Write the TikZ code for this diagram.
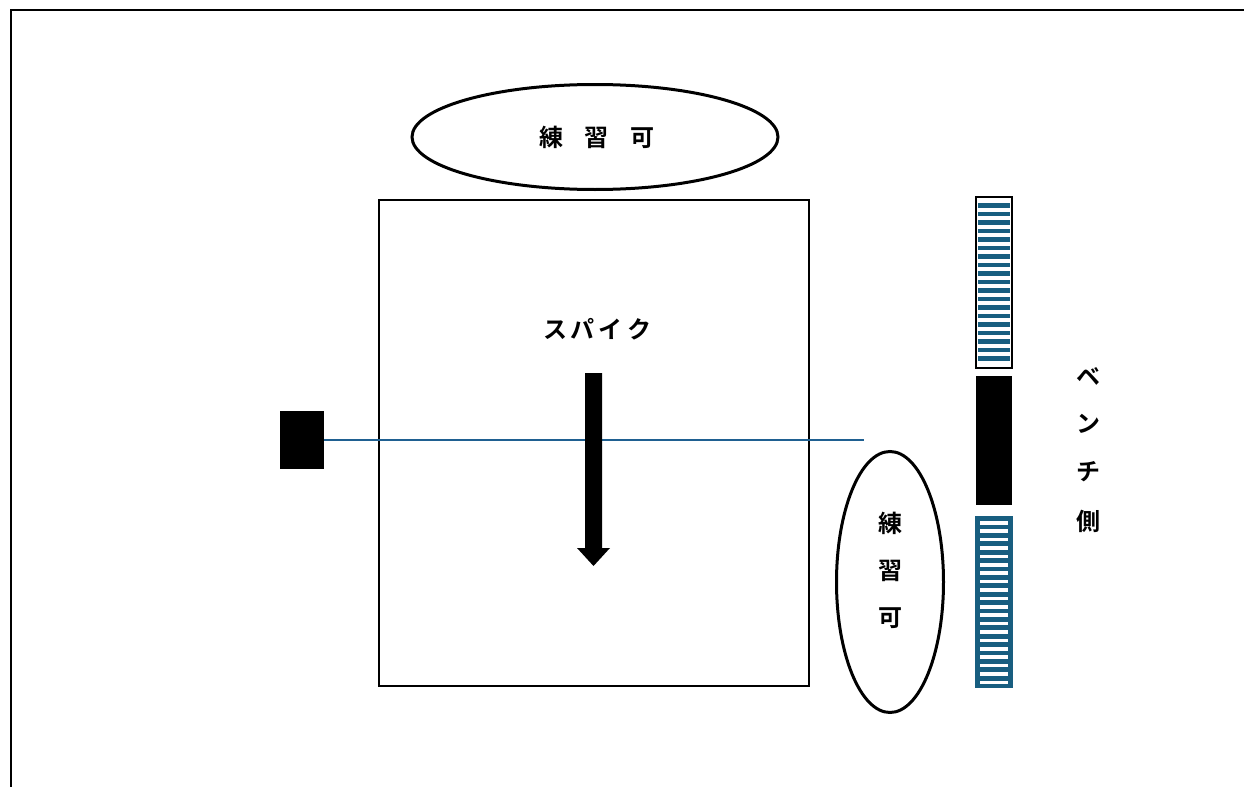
\documentclass[tikz,border=0pt]{standalone}
\usepackage{fontspec}
\setmainfont{Noto Sans CJK JP}[BoldFont={Noto Sans CJK JP Bold}]
\usetikzlibrary{shapes.geometric}
\definecolor{stripeblue}{RGB}{24,94,128}
\definecolor{netblue}{RGB}{31,96,145}
\tikzset{
  lbl/.style={font=\fontsize{12}{14}\selectfont\bfseries, inner sep=0pt},
  zone/.style={draw, ellipse, line width=1.5pt, inner sep=0pt},
  benchpart/.style={minimum width=18pt, minimum height=85.5pt, inner sep=0pt, line width=1pt}
}
\begin{document}
\begin{tikzpicture}[x=0.5pt,y=-0.5pt]
\useasboundingbox (0,0) rectangle (1244,787);
% frame
\draw[line width=1pt] (11,787) -- (11,10) -- (1244,10);
% court
\node[draw, line width=0.75pt, minimum width=215pt, minimum height=243pt, inner sep=0pt] (court) at (594,443) {};
% top practice zone
\node[zone, minimum width=183pt, minimum height=52.5pt] (ztop) at (595,137) {};
\node[lbl] (ttop) at (597,137) {練\hspace{11pt}習\hspace{11pt}可};
% right practice zone
\node[zone, minimum width=53.5pt, minimum height=130.5pt] (zright) at (890,582) {};
\node[lbl] (r1) at (890,523) {練};
\node[lbl] (r2) at (890,571) {習};
\node[lbl] (r3) at (890,618) {可};
% spike label
\node[lbl] (spike) at (597,329) {ス\hspace{2pt}パ\hspace{2pt}イ\hspace{2pt}ク};
% net post and net
\node[fill=black, minimum width=22pt, minimum height=29pt, inner sep=0pt] (post) at (302,440) {};
\coordinate (netend) at (864,440);
\draw[netblue, line width=0.75pt] (post.east) -- (netend);
% arrow
\fill (585,373) -- (602,373) -- (602,548) -- (610,548) -- (593.5,566) -- (577,548) -- (585,548) -- cycle;
% bench top (striped, black border)
\node[benchpart, fill=white] (btop) at (994,282.5) {};
\foreach \i in {0,...,18} {
  \fill[stripeblue] (978,203+\i*8.5) rectangle (1010,207.5+\i*8.5);
}
\node[benchpart, draw=black] at (994,282.5) {};
% bench middle (black)
\node[fill=black, minimum width=18pt, minimum height=64.5pt, inner sep=0pt] (bmid) at (994,440.5) {};
% bench bottom (striped, blue border)
\node[benchpart, fill=stripeblue, draw=stripeblue, minimum height=85pt] (bbot) at (994,602) {};
\foreach \i in {0,...,19} {
  \fill[white] (980,521+\i*8.4) rectangle (1008,524.5+\i*8.4);
}
% bench side label
\node[lbl] (b1) at (1088,377) {ベ};
\node[lbl] (b2) at (1088,424) {ン};
\node[lbl] (b3) at (1088,472) {チ};
\node[lbl] (b4) at (1088,521) {側};
\end{tikzpicture}
\end{document}
